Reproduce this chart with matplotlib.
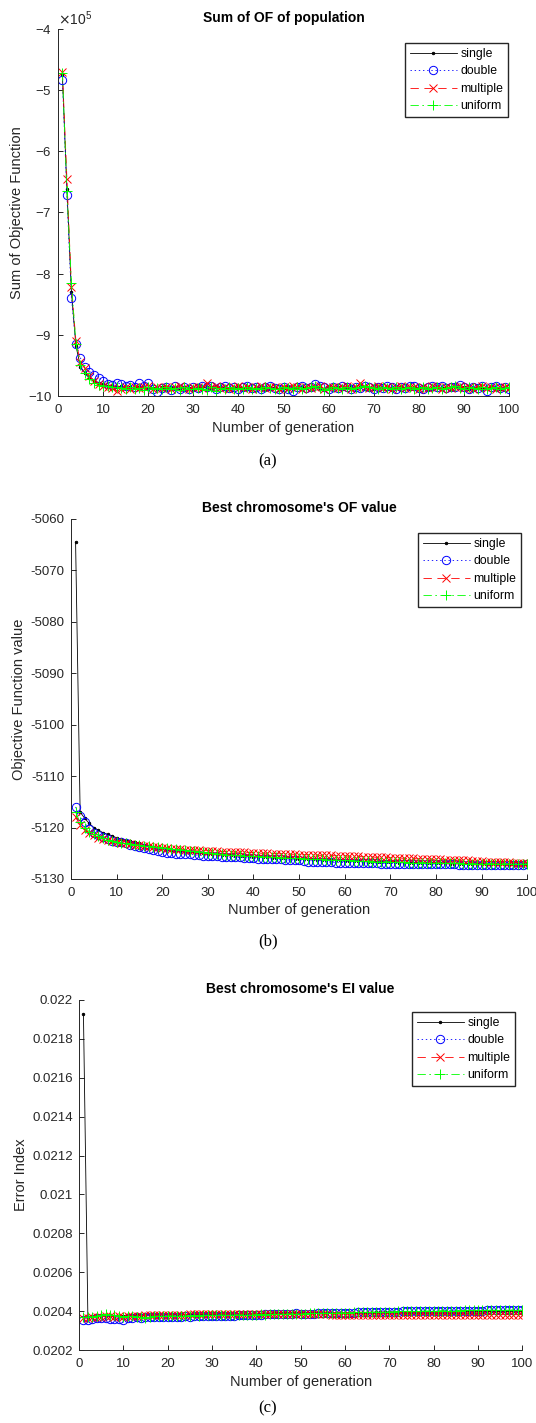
import matplotlib
matplotlib.use('Agg')
import matplotlib.pyplot as plt
from matplotlib.ticker import FuncFormatter

plt.rcParams['font.family'] = ['Liberation Sans', 'DejaVu Sans']
plt.rcParams['axes.unicode_minus'] = False
plt.rcParams['lines.scale_dashes'] = False

gens = list(range(1, 101))
labels = ['single', 'double', 'multiple', 'uniform']

# (a) sum of OF of population, in units of 1e5
single_a = [-4.76, -6.62, -8.30, -9.18, -9.52, -9.63, -9.70, -9.76, -9.79, -9.81,
            -9.83, -9.84, -9.85, -9.84, -9.86, -9.85, -9.87, -9.86, -9.85, -9.88,
            -9.87, -9.89, -9.86, -9.88, -9.87, -9.85, -9.88, -9.86, -9.87, -9.89,
            -9.86, -9.87, -9.85, -9.88, -9.86, -9.87, -9.86, -9.88, -9.87, -9.85,
            -9.87, -9.86, -9.88, -9.87, -9.86, -9.88, -9.87, -9.86, -9.88, -9.87,
            -9.86, -9.88, -9.87, -9.85, -9.87, -9.86, -9.85, -9.87, -9.88, -9.86,
            -9.87, -9.86, -9.88, -9.87, -9.86, -9.87, -9.85, -9.86, -9.87, -9.88,
            -9.86, -9.87, -9.86, -9.88, -9.87, -9.86, -9.87, -9.88, -9.86, -9.87,
            -9.86, -9.88, -9.87, -9.86, -9.87, -9.86, -9.88, -9.85, -9.87, -9.86,
            -9.88, -9.87, -9.86, -9.88, -9.87, -9.86, -9.87, -9.88, -9.86, -9.87]
double_a = [-4.83, -6.72, -8.40, -9.15, -9.38, -9.52, -9.60, -9.65, -9.70, -9.75,
            -9.80, -9.82, -9.79, -9.80, -9.83, -9.82, -9.86, -9.79, -9.84, -9.79,
            -9.88, -9.93, -9.87, -9.85, -9.90, -9.84, -9.88, -9.86, -9.89, -9.85,
            -9.87, -9.84, -9.86, -9.83, -9.88, -9.86, -9.83, -9.87, -9.85, -9.89,
            -9.86, -9.84, -9.87, -9.85, -9.88, -9.86, -9.84, -9.87, -9.89, -9.85,
            -9.88, -9.91, -9.86, -9.84, -9.87, -9.85, -9.81, -9.84, -9.86, -9.88,
            -9.85, -9.87, -9.84, -9.86, -9.89, -9.85, -9.87, -9.84, -9.86, -9.88,
            -9.85, -9.87, -9.84, -9.86, -9.88, -9.85, -9.87, -9.84, -9.83, -9.87,
            -9.89, -9.86, -9.84, -9.85, -9.83, -9.87, -9.86, -9.85, -9.82, -9.86,
            -9.88, -9.85, -9.87, -9.84, -9.92, -9.86, -9.84, -9.87, -9.85, -9.88]
multiple_a = [-4.70, -6.45, -8.22, -9.10, -9.45, -9.55, -9.68, -9.75, -9.80, -9.84,
              -9.86, -9.87, -9.92, -9.89, -9.86, -9.88, -9.85, -9.87, -9.86, -9.84,
              -9.88, -9.86, -9.87, -9.85, -9.88, -9.86, -9.84, -9.87, -9.89, -9.86,
              -9.85, -9.87, -9.78, -9.86, -9.84, -9.87, -9.85, -9.88, -9.86, -9.84,
              -9.87, -9.85, -9.88, -9.86, -9.84, -9.87, -9.85, -9.86, -9.88, -9.85,
              -9.87, -9.84, -9.86, -9.88, -9.85, -9.87, -9.86, -9.84, -9.89, -9.86,
              -9.85, -9.87, -9.86, -9.84, -9.88, -9.86, -9.79, -9.85, -9.87, -9.86,
              -9.84, -9.87, -9.85, -9.88, -9.86, -9.84, -9.87, -9.85, -9.86, -9.88,
              -9.85, -9.87, -9.84, -9.86, -9.88, -9.85, -9.87, -9.86, -9.84, -9.87,
              -9.85, -9.88, -9.86, -9.84, -9.87, -9.85, -9.88, -9.86, -9.85, -9.87]
uniform_a = [-4.72, -6.65, -8.15, -9.15, -9.50, -9.62, -9.72, -9.79, -9.82, -9.83,
             -9.84, -9.85, -9.86, -9.87, -9.88, -9.86, -9.89, -9.87, -9.90, -9.86,
             -9.88, -9.87, -9.89, -9.86, -9.88, -9.87, -9.90, -9.86, -9.88, -9.89,
             -9.87, -9.88, -9.90, -9.86, -9.91, -9.87, -9.88, -9.86, -9.89, -9.87,
             -9.88, -9.86, -9.89, -9.87, -9.88, -9.86, -9.87, -9.89, -9.88, -9.86,
             -9.87, -9.89, -9.86, -9.88, -9.87, -9.85, -9.84, -9.87, -9.90, -9.88,
             -9.86, -9.87, -9.89, -9.86, -9.88, -9.87, -9.85, -9.83, -9.86, -9.87,
             -9.88, -9.86, -9.87, -9.89, -9.86, -9.88, -9.87, -9.86, -9.88, -9.87,
             -9.86, -9.89, -9.87, -9.86, -9.88, -9.87, -9.86, -9.83, -9.87, -9.88,
             -9.86, -9.87, -9.89, -9.86, -9.88, -9.87, -9.86, -9.88, -9.87, -9.86]

# (b) best chromosome's OF value
single_b = [-5064.5, -5117.0, -5118.2, -5119.2, -5120.0, -5120.5, -5121.0, -5121.3, -5121.6, -5122.0,
            -5122.2, -5122.4, -5122.6, -5122.8, -5123.0, -5123.3, -5123.5, -5123.7, -5123.9, -5124.0,
            -5124.2, -5124.3, -5124.4, -5124.5, -5124.6, -5124.7, -5124.8, -5124.9, -5125.0, -5125.1,
            -5125.2, -5125.2, -5125.3, -5125.4, -5125.4, -5125.5, -5125.5, -5125.6, -5125.6, -5125.7,
            -5125.7, -5125.8, -5125.8, -5125.9, -5125.9, -5126.0, -5126.0, -5126.0, -5126.1, -5126.1,
            -5126.2, -5126.2, -5126.2, -5126.3, -5126.3, -5126.3, -5126.4, -5126.4, -5126.4, -5126.5,
            -5126.5, -5126.5, -5126.5, -5126.6, -5126.6, -5126.6, -5126.6, -5126.7, -5126.7, -5126.7,
            -5126.7, -5126.8, -5126.8, -5126.8, -5126.8, -5126.8, -5126.9, -5126.9, -5126.9, -5126.9,
            -5126.9, -5126.9, -5127.0, -5127.0, -5127.0, -5127.0, -5127.0, -5127.0, -5127.0, -5127.1,
            -5127.1, -5127.1, -5127.1, -5127.1, -5127.1, -5127.1, -5127.1, -5127.1, -5127.1, -5127.1]
double_b = [-5116.0, -5117.8, -5119.0, -5120.2, -5121.0, -5121.5, -5121.9, -5122.3, -5122.6, -5122.8,
            -5122.9, -5123.1, -5123.4, -5123.6, -5123.8, -5124.0, -5124.1, -5124.3, -5124.5, -5124.8,
            -5125.0, -5125.0, -5125.1, -5125.1, -5125.2, -5125.2, -5125.3, -5125.4, -5125.5, -5125.5,
            -5125.6, -5125.6, -5125.7, -5125.7, -5125.8, -5125.8, -5125.8, -5125.9, -5125.9, -5126.0,
            -5126.1, -5126.1, -5126.1, -5126.2, -5126.2, -5126.2, -5126.3, -5126.3, -5126.3, -5126.4,
            -5126.5, -5126.6, -5126.6, -5126.7, -5126.7, -5126.7, -5126.7, -5126.8, -5126.8, -5126.8,
            -5126.8, -5126.8, -5126.9, -5126.9, -5126.9, -5126.9, -5126.9, -5127.0, -5127.0, -5127.0,
            -5127.0, -5127.0, -5127.0, -5127.0, -5127.1, -5127.1, -5127.1, -5127.1, -5127.1, -5127.1,
            -5127.1, -5127.1, -5127.1, -5127.1, -5127.2, -5127.2, -5127.2, -5127.2, -5127.2, -5127.2,
            -5127.2, -5127.2, -5127.2, -5127.2, -5127.2, -5127.2, -5127.2, -5127.2, -5127.2, -5127.0]
multiple_b = [-5118.0, -5119.5, -5120.5, -5121.0, -5121.5, -5122.0, -5122.3, -5122.5, -5122.7, -5122.8,
              -5123.0, -5123.1, -5123.2, -5123.3, -5123.4, -5123.5, -5123.6, -5123.7, -5123.8, -5123.9,
              -5124.0, -5124.1, -5124.2, -5124.2, -5124.3, -5124.3, -5124.4, -5124.4, -5124.5, -5124.5,
              -5124.6, -5124.6, -5124.7, -5124.7, -5124.7, -5124.8, -5124.8, -5124.8, -5124.9, -5124.9,
              -5125.0, -5125.0, -5125.0, -5125.1, -5125.1, -5125.1, -5125.2, -5125.2, -5125.2, -5125.3,
              -5125.3, -5125.3, -5125.3, -5125.4, -5125.4, -5125.4, -5125.4, -5125.5, -5125.5, -5125.5,
              -5125.6, -5125.6, -5125.6, -5125.7, -5125.7, -5125.7, -5125.8, -5125.8, -5125.8, -5125.9,
              -5125.9, -5125.9, -5126.0, -5126.0, -5126.0, -5126.1, -5126.1, -5126.1, -5126.2, -5126.2,
              -5126.2, -5126.3, -5126.3, -5126.3, -5126.4, -5126.4, -5126.4, -5126.5, -5126.5, -5126.5,
              -5126.6, -5126.6, -5126.6, -5126.7, -5126.7, -5126.7, -5126.8, -5126.8, -5126.8, -5126.8]
uniform_b = [-5117.0, -5119.0, -5120.0, -5120.8, -5121.3, -5121.7, -5122.1, -5122.4, -5122.6, -5122.8,
             -5123.0, -5123.1, -5123.2, -5123.3, -5123.4, -5123.5, -5123.6, -5123.7, -5123.8, -5123.9,
             -5124.0, -5124.1, -5124.2, -5124.3, -5124.4, -5124.5, -5124.6, -5124.7, -5124.8, -5124.9,
             -5125.0, -5125.1, -5125.2, -5125.3, -5125.3, -5125.4, -5125.4, -5125.5, -5125.5, -5125.6,
             -5125.6, -5125.7, -5125.7, -5125.8, -5125.8, -5125.9, -5125.9, -5126.0, -5126.0, -5126.0,
             -5126.1, -5126.1, -5126.2, -5126.2, -5126.2, -5126.3, -5126.3, -5126.3, -5126.4, -5126.4,
             -5126.4, -5126.5, -5126.5, -5126.5, -5126.5, -5126.6, -5126.6, -5126.6, -5126.6, -5126.7,
             -5126.7, -5126.7, -5126.7, -5126.8, -5126.8, -5126.8, -5126.8, -5126.8, -5126.9, -5126.9,
             -5126.9, -5126.9, -5126.9, -5126.9, -5126.9, -5127.0, -5127.0, -5127.0, -5127.0, -5127.0,
             -5127.0, -5127.0, -5127.0, -5127.0, -5127.0, -5127.1, -5127.1, -5127.1, -5127.1, -5127.1]

# (c) best chromosome's EI value
single_c = [0.021930, 0.020370, 0.020372, 0.020373, 0.020374, 0.020375, 0.020375, 0.020376, 0.020376, 0.020377,
            0.020377, 0.020378, 0.020378, 0.020379, 0.020379, 0.020380, 0.020380, 0.020380, 0.020381, 0.020381,
            0.020381, 0.020382, 0.020382, 0.020382, 0.020383, 0.020383, 0.020383, 0.020384, 0.020384, 0.020384,
            0.020384, 0.020385, 0.020385, 0.020385, 0.020385, 0.020386, 0.020386, 0.020386, 0.020386, 0.020387,
            0.020387, 0.020387, 0.020387, 0.020388, 0.020388, 0.020388, 0.020388, 0.020389, 0.020389, 0.020389,
            0.020389, 0.020390, 0.020390, 0.020390, 0.020390, 0.020390, 0.020391, 0.020391, 0.020391, 0.020391,
            0.020391, 0.020392, 0.020392, 0.020392, 0.020392, 0.020392, 0.020393, 0.020393, 0.020393, 0.020393,
            0.020393, 0.020394, 0.020394, 0.020394, 0.020394, 0.020394, 0.020395, 0.020395, 0.020395, 0.020395,
            0.020395, 0.020396, 0.020396, 0.020396, 0.020396, 0.020396, 0.020397, 0.020397, 0.020397, 0.020397,
            0.020397, 0.020398, 0.020398, 0.020398, 0.020398, 0.020398, 0.020399, 0.020399, 0.020399, 0.020399]
double_c = [0.020352, 0.020356, 0.020360, 0.020362, 0.020364, 0.020363, 0.020358, 0.020357, 0.020360, 0.020356,
            0.020362, 0.020366, 0.020368, 0.020367, 0.020369, 0.020368, 0.020370, 0.020369, 0.020371, 0.020370,
            0.020371, 0.020372, 0.020371, 0.020373, 0.020372, 0.020373, 0.020374, 0.020373, 0.020374, 0.020375,
            0.020375, 0.020376, 0.020376, 0.020377, 0.020377, 0.020378, 0.020380, 0.020381, 0.020381, 0.020382,
            0.020382, 0.020383, 0.020383, 0.020384, 0.020384, 0.020385, 0.020385, 0.020386, 0.020388, 0.020387,
            0.020387, 0.020386, 0.020386, 0.020388, 0.020389, 0.020389, 0.020390, 0.020390, 0.020391, 0.020391,
            0.020392, 0.020392, 0.020393, 0.020393, 0.020394, 0.020394, 0.020395, 0.020395, 0.020396, 0.020396,
            0.020397, 0.020397, 0.020398, 0.020398, 0.020399, 0.020399, 0.020400, 0.020400, 0.020400, 0.020401,
            0.020401, 0.020401, 0.020402, 0.020402, 0.020402, 0.020402, 0.020403, 0.020403, 0.020403, 0.020403,
            0.020403, 0.020404, 0.020404, 0.020404, 0.020404, 0.020404, 0.020404, 0.020405, 0.020405, 0.020406]
multiple_c = [0.020364, 0.020366, 0.020370, 0.020368, 0.020372, 0.020374, 0.020373, 0.020371, 0.020373, 0.020372,
              0.020374, 0.020375, 0.020376, 0.020374, 0.020378, 0.020380, 0.020378, 0.020379, 0.020380, 0.020379,
              0.020380, 0.020381, 0.020381, 0.020382, 0.020384, 0.020385, 0.020385, 0.020386, 0.020385, 0.020386,
              0.020385, 0.020386, 0.020385, 0.020384, 0.020385, 0.020384, 0.020383, 0.020384, 0.020383, 0.020383,
              0.020384, 0.020383, 0.020384, 0.020383, 0.020384, 0.020383, 0.020384, 0.020383, 0.020384, 0.020383,
              0.020384, 0.020383, 0.020384, 0.020385, 0.020384, 0.020383, 0.020381, 0.020380, 0.020380, 0.020381,
              0.020380, 0.020381, 0.020380, 0.020381, 0.020380, 0.020381, 0.020380, 0.020381, 0.020381, 0.020382,
              0.020381, 0.020382, 0.020381, 0.020382, 0.020381, 0.020382, 0.020381, 0.020382, 0.020381, 0.020382,
              0.020381, 0.020382, 0.020381, 0.020382, 0.020382, 0.020381, 0.020382, 0.020381, 0.020382, 0.020381,
              0.020382, 0.020381, 0.020382, 0.020382, 0.020381, 0.020382, 0.020382, 0.020381, 0.020382, 0.020382]
uniform_c = [0.020368, 0.020370, 0.020372, 0.020375, 0.020380, 0.020383, 0.020378, 0.020381, 0.020374, 0.020372,
             0.020373, 0.020375, 0.020372, 0.020368, 0.020365, 0.020370, 0.020373, 0.020375, 0.020374, 0.020376,
             0.020375, 0.020376, 0.020377, 0.020376, 0.020377, 0.020378, 0.020377, 0.020378, 0.020379, 0.020378,
             0.020379, 0.020380, 0.020379, 0.020380, 0.020381, 0.020380, 0.020381, 0.020382, 0.020381, 0.020382,
             0.020383, 0.020382, 0.020383, 0.020384, 0.020384, 0.020385, 0.020385, 0.020386, 0.020386, 0.020387,
             0.020387, 0.020388, 0.020388, 0.020389, 0.020389, 0.020390, 0.020390, 0.020391, 0.020391, 0.020392,
             0.020392, 0.020393, 0.020393, 0.020394, 0.020394, 0.020395, 0.020395, 0.020396, 0.020396, 0.020397,
             0.020397, 0.020398, 0.020398, 0.020399, 0.020399, 0.020400, 0.020400, 0.020401, 0.020401, 0.020402,
             0.020402, 0.020402, 0.020403, 0.020403, 0.020403, 0.020403, 0.020404, 0.020404, 0.020404, 0.020404,
             0.020404, 0.020405, 0.020405, 0.020405, 0.020405, 0.020405, 0.020405, 0.020406, 0.020406, 0.020406]

styles = [dict(color='k', ls='-', marker='.', ms=3.5),
          dict(color='b', ls=(0, (1, 2)), marker='o', ms=6, mfc='none'),
          dict(color='r', ls=(0, (6, 4)), marker='x', ms=6),
          dict(color='#00ff00', ls=(0, (6, 2.5, 1.2, 2.5)), marker='+', ms=7)]

panels = [
    dict(series=[single_a, double_a, multiple_a, uniform_a], scale=1e5,
         rect=[0.108, 0.7217, 0.842, 0.258], ylim=(-10e5, -4e5), step=1e5,
         title='Sum of OF of population', ylabel='Sum of Objective Function',
         caption='(a)', cap_y=0.676, leg=(0.948, 0.9698)),
    dict(series=[single_b, double_b, multiple_b, uniform_b], scale=1,
         rect=[0.1325, 0.3823, 0.851, 0.253], ylim=(-5130, -5060), step=10,
         title="Best chromosome's OF value", ylabel='Objective Function value',
         caption='(b)', cap_y=0.3387, leg=(0.972, 0.6254)),
    dict(series=[single_c, double_c, multiple_c, uniform_c], scale=1,
         rect=[0.1474, 0.0513, 0.827, 0.246], ylim=(0.0202, 0.022), step=0.0002,
         title="Best chromosome's EI value", ylabel='Error Index',
         caption='(c)', cap_y=0.0105, leg=(0.961, 0.2888)),
]

fig = plt.figure(figsize=(5.36, 14.23), dpi=100)
grey = '#262626'

for p in panels:
    ax = fig.add_axes(p['rect'])
    for vals, st, lab in zip(p['series'], styles, labels):
        ax.plot(gens, [v * p['scale'] for v in vals], lw=0.6, mew=0.7, label=lab, **st)
    ax.set_xlim(0, 100)
    ax.set_xticks(range(0, 101, 10))
    lo, hi = p['ylim']
    ax.set_ylim(lo, hi)
    n = int(round((hi - lo) / p['step']))
    ax.set_yticks([lo + i * p['step'] for i in range(n + 1)])
    if p['scale'] != 1:
        ax.ticklabel_format(axis='y', style='sci', scilimits=(5, 5), useMathText=True)
        ax.yaxis.get_offset_text().set_fontsize(10)
        ax.yaxis.get_offset_text().set_color(grey)
    else:
        ax.yaxis.set_major_formatter(FuncFormatter(lambda v, pos: '%g' % round(v, 6)))
    for s in ['top', 'right']:
        ax.spines[s].set_visible(False)
    for s in ['left', 'bottom']:
        ax.spines[s].set_color(grey)
        ax.spines[s].set_linewidth(0.7)
    ax.tick_params(direction='in', length=3.5, width=0.7, colors=grey, labelsize=9.5)
    ax.tick_params(axis='x', pad=6)
    ax.tick_params(axis='y', pad=4.5)
    ax.set_title(p['title'], fontsize=10, fontweight='bold', pad=5)
    ax.set_xlabel('Number of generation', fontsize=10.5, color=grey, labelpad=3)
    ax.set_ylabel(p['ylabel'], fontsize=10.5, color=grey, labelpad=3)
    ax.legend(loc='upper right', bbox_to_anchor=p['leg'], bbox_transform=fig.transFigure,
              borderaxespad=0, fontsize=8.8, frameon=True, fancybox=False, edgecolor=grey,
              handlelength=3.8, handletextpad=0.3, labelspacing=0.45,
              borderpad=0.4, framealpha=1)
    fig.text(0.5, p['cap_y'], p['caption'], ha='center', va='center', fontsize=12,
             family=['Liberation Serif', 'DejaVu Serif'])

fig.savefig('out.png', dpi=100)
